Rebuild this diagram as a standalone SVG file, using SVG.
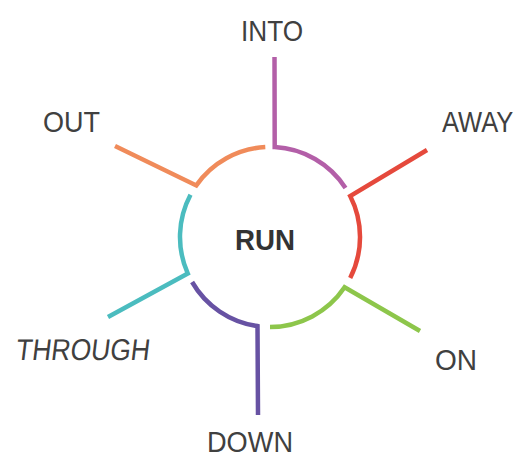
<svg xmlns="http://www.w3.org/2000/svg" width="521" height="457" viewBox="0 0 521 457">
<style>
.lbl{font-family:"Liberation Sans",Arial,sans-serif;font-size:30px;fill:#404040;}
.run{font-family:"Liberation Sans",Arial,sans-serif;font-size:30px;font-weight:bold;fill:#333;}
.c{fill:none;stroke-width:4.5;stroke-linejoin:miter;stroke-linecap:butt;}
</style>
<rect width="521" height="457" fill="#fff"/>
<g id="connectors">
<path class="c" stroke="#b35fa8" d="M274.5 57 L274.7 147.1 A90 90 0 0 1 345.5 188"/>
<path class="c" stroke="#e5493c" d="M427 150 L350.2 196.1 A90 90 0 0 1 350.2 277.9"/>
<path class="c" stroke="#8dc64b" d="M420 331 L344.6 287.3 A90 90 0 0 1 270 327"/>
<path class="c" stroke="#6752a3" d="M258 415 L257.5 326.1 A90 90 0 0 1 192.1 282"/>
<path class="c" stroke="#4bbcbf" d="M108 317 L187.8 273.6 A90 90 0 0 1 190.5 194.7"/>
<path class="c" stroke="#f08b5a" d="M115 146 L196.3 185.4 A90 90 0 0 1 265.3 147.1"/>
</g>
<g id="run"><text class="run" x="235" y="250" textLength="60" lengthAdjust="spacingAndGlyphs">RUN</text></g>
<g id="into"><text class="lbl" x="241" y="41" textLength="62" lengthAdjust="spacingAndGlyphs">INTO</text></g>
<g id="away"><text class="lbl" transform="translate(442 132) scale(0.85 1)" x="0" y="0">AWAY</text></g>
<g id="on"><text class="lbl" x="435" y="370" textLength="42" lengthAdjust="spacingAndGlyphs">ON</text></g>
<g id="down"><text class="lbl" x="207" y="452" textLength="86" lengthAdjust="spacingAndGlyphs">DOWN</text></g>
<g id="through"><text class="lbl" x="15" y="360" transform="translate(0 360) skewX(-7) translate(0 -360)" textLength="134" lengthAdjust="spacingAndGlyphs">THROUGH</text></g>
<g id="out"><text class="lbl" x="43" y="132" textLength="57" lengthAdjust="spacingAndGlyphs">OUT</text></g>
</svg>
